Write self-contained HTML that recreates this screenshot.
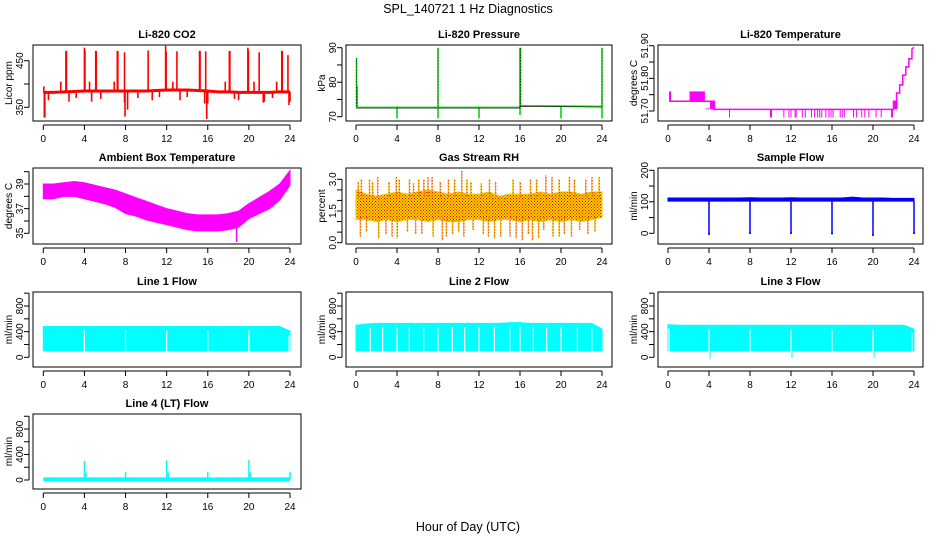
<!DOCTYPE html>
<html><head><meta charset="utf-8">
<style>
html,body{margin:0;padding:0;background:#fff;}
svg{display:block;font-family:"Liberation Sans",Arial,sans-serif;}
</style></head>
<body>
<svg id="chart" width="936" height="540" viewBox="0 0 936 540" xmlns="http://www.w3.org/2000/svg">
<text x="468" y="13" text-anchor="middle" font-size="12.5">SPL_140721  1 Hz Diagnostics</text>
<text x="468" y="531" text-anchor="middle" font-size="12.5">Hour of Day (UTC)</text>
</svg>
<script>
// ---- data arrays ----
const xTicks = [0,4,8,12,16,20,24];
const hours = [0,1,2,3,4,5,6,7,8,9,10,11,12,13,14,15,16,17,18,19,20,21,22,23,24];
// CO2
const co2Base = [382,382,383,384,385,385,385,385,385,385,385,386,387,387,387,386,385,383,383,382,382,382,382,383,383];
const co2UpHours = [2.2,2.25,4.0,4.05,5.1,5.15,7.2,7.25,7.9,10.2,11.9,11.95,13.0,15.2,15.25,15.8,18.1,18.15,19.9,19.95,21.0,23.2,23.25,23.8,1.7,4.5,6.9,12.6,17.7,20.5,22.7,0.05];
const co2UpVals = [471,471,478,472,471,471,471,471,468,472,482,470,470,471,471,470,471,471,478,472,468,471,471,462,405,405,405,405,405,405,405,395];
const co2DnHours = [0.1,0.15,0.5,2.5,3.2,4.7,5.6,7.9,7.95,8.2,9.2,10.6,11.3,13.3,14.0,15.7,15.9,16.0,18.6,19.0,21.4,21.5,22.3,23.9,24.0];
const co2DnVals = [328,328,365,362,370,362,368,360,330,345,370,365,372,365,372,358,325,358,368,365,360,362,370,355,362];
// Pressure
const presHours = [0,16,16,24];
const presVals = [72.7,72.7,73.2,73.0];
const presUpHours = [0.05,0.1,8,16,16.05,24];
const presUpVals = [87,79,90,90,90,90];
const presDnHours = [4,8,12,16,20,24];
const presDnVals = [69.5,69.5,69.5,70.5,69.5,69.5];
// Li-820 temperature
const tempHours = [0.1,4.5,4.5,22.0,22.0,22.3,22.3,22.6,22.6,22.9,22.9,23.2,23.2,23.5,23.5,23.8,23.8,24.0];
const tempVals = [51.73,51.73,51.705,51.705,51.73,51.73,51.755,51.755,51.78,51.78,51.81,51.81,51.835,51.835,51.86,51.86,51.89,51.895];
const tempBlockStart = [0.1,2.1,4.1,22.05];
const tempBlockEnd = [0.3,3.6,4.6,22.4];
const tempBlockLow = [51.73,51.73,51.705,51.705];
const tempBlockHigh = [51.76,51.76,51.73,51.73];
const tempSpikeHours = [3.8,4.0,6.0,10.0,10.1,11.3,11.8,12.0,12.4,12.5,13.1,13.4,14.0,14.3,14.6,14.8,15.0,15.4,15.7,15.9,16.1,16.8,17.0,17.2,18.1,18.4,18.9,19.2,19.6,20.3,20.8,21.8,21.9];
const tempSpikeLow = [51.71,51.71,51.68,51.68,51.68,51.68,51.68,51.68,51.68,51.68,51.68,51.68,51.68,51.68,51.68,51.68,51.68,51.68,51.68,51.68,51.68,51.68,51.68,51.68,51.68,51.68,51.68,51.68,51.68,51.68,51.68,51.68,51.68];
// Ambient box temperature
const ambUpper = [39.0,39.0,39.1,39.2,39.1,38.9,38.7,38.5,38.2,37.9,37.6,37.3,37.0,36.8,36.6,36.5,36.5,36.5,36.6,36.8,37.4,37.9,38.4,39.0,40.1];
const ambLower = [37.8,37.8,38.0,38.0,37.8,37.6,37.4,37.1,36.6,36.4,36.1,35.9,35.7,35.5,35.3,35.2,35.2,35.2,35.3,35.5,36.2,36.6,37.0,37.7,38.9];
const ambDipHour = [18.8];
const ambDipVal = [34.3];
// Gas stream RH
const rhUpper = [2.5,2.3,2.2,2.3,2.4,2.3,2.4,2.5,2.4,2.3,2.4,2.3,2.3,2.4,2.2,2.3,2.3,2.3,2.4,2.3,2.4,2.4,2.3,2.4,2.4];
const rhLower = [1.1,1.1,1.0,1.1,1.0,1.1,1.1,1.0,1.1,1.0,1.0,1.1,1.1,1.0,1.1,1.1,1.0,1.1,1.0,1.1,1.0,1.1,1.0,1.1,1.2];
const rhUpHours = [0.2,0.5,1.3,1.6,2.1,3.2,3.9,4.2,5.2,5.6,6.1,6.6,7.0,7.4,8.2,9.0,9.6,10.3,10.8,11.2,12.2,13.0,13.6,15.3,16.0,17.0,17.6,18.5,19.1,19.8,20.8,21.3,22.4,23.0,23.7];
const rhUpVals = [2.9,3.0,3.0,2.9,3.1,2.9,3.1,3.0,3.0,2.8,3.0,3.0,3.1,3.1,2.9,3.0,3.0,3.4,3.0,2.9,2.8,3.0,2.9,3.0,2.9,3.0,3.0,3.2,3.1,3.0,3.1,3.0,3.0,3.1,3.1];
const rhDnHours = [0.4,1.0,2.2,2.9,3.5,4.0,5.0,5.8,6.4,7.5,8.4,8.8,9.4,10.0,10.5,11.4,12.4,12.9,13.5,14.1,15.0,15.6,16.2,16.8,17.2,17.8,18.3,19.2,19.8,20.3,21.0,21.8,22.6,23.3];
const rhDnVals = [0.3,0.5,0.2,0.4,0.3,0.2,0.5,0.4,0.4,0.3,0.1,0.3,0.4,0.5,0.3,0.6,0.4,0.3,0.2,0.3,0.3,0.2,0.1,0.4,0.1,0.2,0.6,0.3,0.3,0.4,0.3,0.6,0.4,0.5];
// Sample flow
const sfUpper = [112,112,112,112,112,112,112,112,113,112,112,112,113,112,112,112,112,112,115,112,112,112,111,111,111];
const sfLower = [102,102,102,102,102,102,102,102,102,102,102,102,102,102,102,102,102,102,102,102,102,102,102,102,102];
const sfDipHours = [4,8,12,16,20,24];
const sfDipVals = [-5,-2,-2,-3,-8,-2];
// Line flows
const l1Upper = [480,480,480,480,480,480,480,480,480,480,480,480,480,480,480,480,480,480,480,480,480,480,480,480,410];
const l2Upper = [500,520,530,530,530,530,530,530,530,530,530,530,530,530,530,540,540,530,530,530,530,530,530,530,440];
const l3Upper = [510,500,500,500,500,500,500,500,500,500,500,500,500,500,500,500,500,500,500,500,500,500,500,500,440];
const flowLower = [100,100,100,100,100,100,100,100,100,100,100,100,100,100,100,100,100,100,100,100,100,100,100,100,100];
const l1GapHours = [4,8,12,16,20,23.9];
const l2GapHours = [1.4,2.6,4.0,5.2,6.6,8.0,9.4,10.6,12.0,13.5,15.0,16.0,17.3,18.6,20.0,21.6,23.0];
const l3GapHours = [0.1,4.0,8.0,12.0,16.0,20.0,23.8];
const l3DipHours = [4.0,12.0,20.0];
const l3DipVals = [-20,-10,-10];
// Line 4 flow
const l4Base = [10,10,10,10,10,10,10,10,10,10,10,10,10,10,10,10,10,10,10,10,10,10,10,10,10];
const l4SpikeHours = [4.0,4.15,8.0,12.0,12.15,16.0,20.0,20.15,24.0];
const l4SpikeVals = [300,120,130,310,120,130,310,120,130];

// ---- layout ----
const NS = "http://www.w3.org/2000/svg";
const svg = document.getElementById('chart');
const cols = [{bx0:33,bx1:301,p0:43.3,p1:290},{bx0:346,bx1:612,p0:356,p1:602},{bx0:658,bx1:923,p0:668,p1:914}];
const rows = [{by0:45,by1:121},{by0:168,by1:244},{by0:292,by1:367},{by0:414,by1:489}];

function el(tag, attrs, parent){
  const e = document.createElementNS(NS, tag);
  for (const k in attrs) e.setAttribute(k, attrs[k]);
  (parent||svg).appendChild(e);
  return e;
}

function makePanel(name, title, col, row, v1, p1, v2, p2, ticks, labels, ylab){
  const C = cols[col], R = rows[row];
  const g = el('g', {});
  
  
  const xs = h => C.p0 + (C.p1 - C.p0) * h / 24;
  const ys = v => p1 + (v - v1) * (p2 - p1) / (v2 - v1);
  const clipId = 'clip-' + name;
  const cp = el('clipPath', {id: clipId}, g);
  el('rect', {x:C.bx0, y:R.by0, width:C.bx1-C.bx0, height:R.by1-R.by0}, cp);
  const plot = el('g', {'clip-path':'url(#'+clipId+')'}, g);
  
  
  const t = el('text', {x:(C.bx0+C.bx1)/2, y:R.by0-7, 'text-anchor':'middle', 'font-size':'11', 'font-weight':'bold'}, g);
  
  
  t.textContent = title;
  const fr = el('rect', {x:C.bx0, y:R.by0, width:C.bx1-C.bx0, height:R.by1-R.by0, fill:'none', stroke:'#000', 'stroke-width':'1'}, g);
  
  
  const xa = el('g', {}, g);
  
  
  const xb = R.by1 + 4;
  el('line', {x1:xs(0), x2:xs(24), y1:xb, y2:xb, stroke:'#000'}, xa);
  xTicks.forEach(h => {
    el('line', {x1:xs(h), x2:xs(h), y1:xb, y2:xb+5, stroke:'#000'}, xa);
    const tl = el('text', {x:xs(h), y:xb+17, 'text-anchor':'middle', 'font-size':'10'}, xa);
    
    
    tl.textContent = h;
  });
  const ya = el('g', {}, g);
  
  
  const yb = C.bx0 - 4;
  el('line', {x1:yb, x2:yb, y1:ys(ticks[0]), y2:ys(ticks[ticks.length-1]), stroke:'#000'}, ya);
  ticks.forEach(v => el('line', {x1:yb-5, x2:yb, y1:ys(v), y2:ys(v), stroke:'#000'}, ya));
  labels.forEach(v => {
    const yy = ys(v);
    const tl = el('text', {x:0, y:0, transform:'translate('+(C.bx0-10)+','+yy+') rotate(-90)', 'text-anchor':'middle', 'font-size':'10'}, ya);
    
    
    tl.textContent = name === 'li820-temperature' ? v.toFixed(2) : (name==='gas-stream-rh' ? v.toFixed(1) : v);
  });
  const yl = el('text', {x:0, y:0, transform:'translate('+(C.bx0-21)+','+((R.by0+R.by1)/2)+') rotate(-90)', 'text-anchor':'middle', 'font-size':'10'}, g);
  
  
  yl.textContent = ylab;
  return {xs, ys, plot};
}

function vline(P, h, a, b, color, w, nm){
  const l = el('line', {x1:P.xs(h), x2:P.xs(h), y1:P.ys(a), y2:P.ys(b), stroke:color, 'stroke-width':w}, P.plot);
  
  
}
function poly(P, hs, vs, color, w, nm){
  const pts = hs.map((h,i)=>P.xs(h)+','+P.ys(vs[i])).join(' ');
  const l = el('polyline', {points:pts, fill:'none', stroke:color, 'stroke-width':w}, P.plot);
  
  
}
function band(P, hs, lo, hi, color, nm){
  const pts = hs.map((h,i)=>P.xs(h)+','+P.ys(hi[i])).concat(hs.slice().reverse().map((h,j)=>{const i=hs.length-1-j;return P.xs(h)+','+P.ys(lo[i]);})).join(' ');
  const p = el('polygon', {points:pts, fill:color, stroke:color, 'stroke-width':'1'}, P.plot);
  
  
  return p;
}
function brect(P, h0, h1, lo, hi, color, nm){
  const r = el('rect', {x:P.xs(h0), y:P.ys(hi), width:P.xs(h1)-P.xs(h0), height:P.ys(lo)-P.ys(hi), fill:color}, P.plot);
  
  
}

// CO2
let P = makePanel('li820-co2','Li-820 CO2',0,0,450,60.7,350,107.3,[350,400,450],[350,450],'Licor ppm');
co2UpHours.forEach((h,i)=>vline(P,h,co2Base[Math.round(h)],co2UpVals[i],'#f00',1.6,'co2-spike'));
co2DnHours.forEach((h,i)=>vline(P,h,co2Base[Math.round(h)],co2DnVals[i],'#f00',1.6,'co2-dip'));
poly(P,hours,co2Base,'#f00',3,'co2-line');

// Pressure
P = makePanel('li820-pressure','Li-820 Pressure',1,0,90,47.7,70,116.7,[70,75,80,85,90],[70,80,90],'kPa');
presUpHours.forEach((h,i)=>vline(P,h,73,presUpVals[i],'#0c0',1.5,'pressure-spike'));
presDnHours.forEach((h,i)=>vline(P,h,73,presDnVals[i],'#0c0',1.5,'pressure-dip'));
poly(P,presHours,presVals,'#0e0',1.5,'pressure-line');
presUpHours.forEach((h,i)=>{const l=el('line',{x1:P.xs(h),x2:P.xs(h),y1:P.ys(73),y2:P.ys(presUpVals[i]),stroke:'#000','stroke-width':0.8,'stroke-dasharray':'1,2'},P.plot);

});
poly(P,presHours,presVals.map(v=>v-0.2),'#000',0.6,'pressure-points');

// Temperature
P = makePanel('li820-temperature','Li-820 Temperature',2,0,51.90,45.7,51.70,111,[51.70,51.75,51.80,51.85,51.90],[51.70,51.80,51.90],'degrees C');
tempBlockStart.forEach((h,i)=>brect(P,h,tempBlockEnd[i],tempBlockLow[i],tempBlockHigh[i],'#f0f','temperature-block'));
tempSpikeHours.forEach((h,i)=>vline(P,h,51.705,tempSpikeLow[i],'#f0f',1,'temperature-spike'));
poly(P,tempHours,tempVals,'#f0f',1.5,'temperature-line');

// Ambient
P = makePanel('ambient-box-temperature','Ambient Box Temperature',0,1,39,184,35,233.3,[35,36,37,38,39,40],[35,37,39],'degrees C');
band(P,hours,ambLower,ambUpper,'#f0f','ambient-band');
ambDipHour.forEach((h,i)=>vline(P,h,36,ambDipVal[i],'#f0f',1.5,'ambient-dip'));

// RH
P = makePanel('gas-stream-rh','Gas Stream RH',1,1,3,179.3,0,242.7,[0,0.5,1,1.5,2,2.5,3],[0,1.5,3],'percent');
const pat = el('pattern',{id:'rhpat',width:'3',height:'3',patternUnits:'userSpaceOnUse'});
el('rect',{width:3,height:3,fill:'#f5d000'},pat);
el('rect',{x:0,y:0,width:1,height:1,fill:'#f00'},pat);
el('rect',{x:1.5,y:1.5,width:1,height:1,fill:'#e01000'},pat);
band(P,hours,rhLower,rhUpper,'url(#rhpat)','rh-band').setAttribute('stroke','#f0c000');
rhUpHours.forEach((h,i)=>vline(P,h,2.2,rhUpVals[i],'#f0c000',1.2,'rh-spike'));
rhDnHours.forEach((h,i)=>vline(P,h,1.2,rhDnVals[i],'#f0c000',1.2,'rh-dip'));
rhUpHours.forEach((h,i)=>{const l=el('line',{x1:P.xs(h)+0.5,x2:P.xs(h)+0.5,y1:P.ys(2.2),y2:P.ys(rhUpVals[i]),stroke:'#f00','stroke-width':1,'stroke-dasharray':'1,2'},P.plot);

});
rhDnHours.forEach((h,i)=>{const l=el('line',{x1:P.xs(h)+0.5,x2:P.xs(h)+0.5,y1:P.ys(1.2),y2:P.ys(rhDnVals[i]),stroke:'#f00','stroke-width':1,'stroke-dasharray':'1,2'},P.plot);

});

// Sample flow
P = makePanel('sample-flow','Sample Flow',2,1,200,170.3,0,233.3,[0,50,100,150,200],[0,100,200],'ml/min');
band(P,hours,sfLower,sfUpper,'#00f','sample-flow-band');
sfDipHours.forEach((h,i)=>vline(P,h,102,sfDipVals[i],'#00f',1.5,'sample-flow-dip'));
sfDipHours.forEach((h,i)=>brect(P,h-0.08,h+0.08,sfDipVals[i],sfDipVals[i]+6,'#00f','sample-flow-dip-cap'));

// Line flows
function flowPanel(name,title,col,row,upper,gaps){
  const Q = makePanel(name,title,col,row,800,306,0,357.3,[0,200,400,600,800,1000],[0,400,800],'ml/min');
  band(Q,hours,flowLower,upper,'#0ff',name+'-band');
  gaps.forEach(h=>vline(Q,h,flowLower[0]-10,upper[Math.round(h)]-60,'#fff',1.2,name+'-gap'));
  return Q;
}
flowPanel('line-1-flow','Line 1 Flow',0,2,l1Upper,l1GapHours);
flowPanel('line-2-flow','Line 2 Flow',1,2,l2Upper,l2GapHours);
P = flowPanel('line-3-flow','Line 3 Flow',2,2,l3Upper,l3GapHours);
l3DipHours.forEach((h,i)=>vline(P,h+0.1,100,l3DipVals[i],'#0ff',1,'line-3-dip'));

// Line 4
P = makePanel('line-4-flow','Line 4 (LT) Flow',0,3,800,429,0,480,[0,200,400,600,800,1000],[0,400,800],'ml/min');
poly(P,hours,l4Base,'#0ff',4,'line-4-base');
l4SpikeHours.forEach((h,i)=>vline(P,h,l4Base[0],l4SpikeVals[i],'#0ff',1.5,'line-4-spike'));
</script>
</body></html>
